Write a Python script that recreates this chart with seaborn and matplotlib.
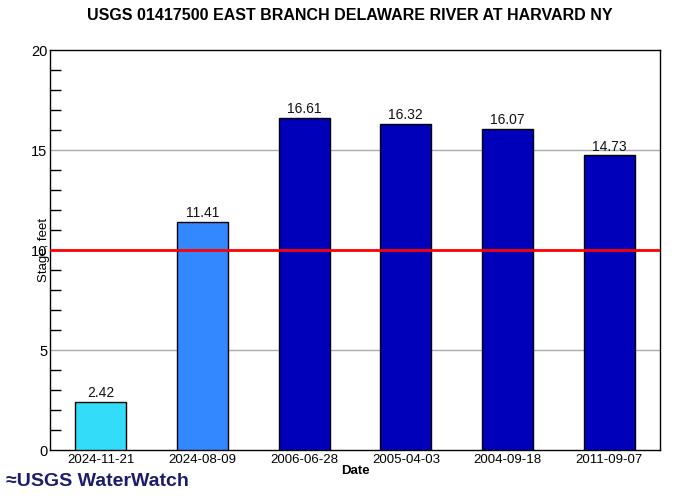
import numpy as np
import pandas as pd
import matplotlib
matplotlib.use('Agg')
import matplotlib.pyplot as plt
import seaborn as sns
from matplotlib.ticker import MultipleLocator

# Data
dates = ['2024-11-21', '2024-08-09', '2006-06-28', '2005-04-03', '2004-09-18', '2011-09-07']
stage = [2.42, 11.41, 16.61, 16.32, 16.07, 14.73]
bar_colors = ['#33DDFA', '#3388FF', '#0000BB', '#0000BB', '#0000BB', '#0000BB']
flood_stage = 10

df = pd.DataFrame({'date': dates, 'stage': stage})

sns.set_style('white')
plt.rcParams['font.family'] = ['Liberation Sans', 'DejaVu Sans']
plt.rcParams['text.color'] = 'black'
plt.rcParams['axes.labelcolor'] = 'black'
plt.rcParams['xtick.color'] = 'black'
plt.rcParams['ytick.color'] = 'black'

fig = plt.figure(figsize=(7, 5), dpi=100)
ax = fig.add_axes([50 / 700, 50 / 500, 610 / 700, 400 / 500])

sns.barplot(data=df, x='date', y='stage', hue='date', palette=bar_colors,
            width=0.5, edgecolor='black', linewidth=1, legend=False, ax=ax,
            saturation=1, zorder=3)

for i, v in enumerate(stage):
    ax.text(i, v + 0.08, f'{v:.2f}', ha='center', va='bottom', fontsize=10, color='#111111', zorder=4)

ax.axhline(flood_stage, color='red', linewidth=2, zorder=5)
for g in [5, 15]:
    ax.axhline(g, color='#aaaaaa', linewidth=1, zorder=1)

ax.set_ylim(0, 20)
ax.set_xlim(-0.5, 5.5)
ax.yaxis.set_major_locator(MultipleLocator(5))
ax.yaxis.set_minor_locator(MultipleLocator(1))
ax.tick_params(axis='y', which='major', direction='in', length=10, width=1, color='black',
               labelsize=10.5, pad=2)
ax.tick_params(axis='y', which='minor', direction='in', length=8, width=1, color='black', left=True)
ax.tick_params(axis='x', length=0, labelsize=9.5, pad=3)

for s in ax.spines.values():
    s.set_color('black')
    s.set_linewidth(1)

ax.set_xlabel('Date', fontsize=9.5, fontweight='bold', labelpad=-1)
ax.set_ylabel('Stage, feet', fontsize=9.5, labelpad=-14)

fig.text(0.5, 0.968, 'USGS 01417500 EAST BRANCH DELAWARE RIVER AT HARVARD NY',
         ha='center', va='center', fontsize=11.5, fontweight='bold')

fig.text(0.008, 0.038, '\u2248USGS WaterWatch', ha='left', va='center', fontsize=14,
         fontweight='bold', color='#1c1c6e')

fig.savefig('out.png', dpi=100)
